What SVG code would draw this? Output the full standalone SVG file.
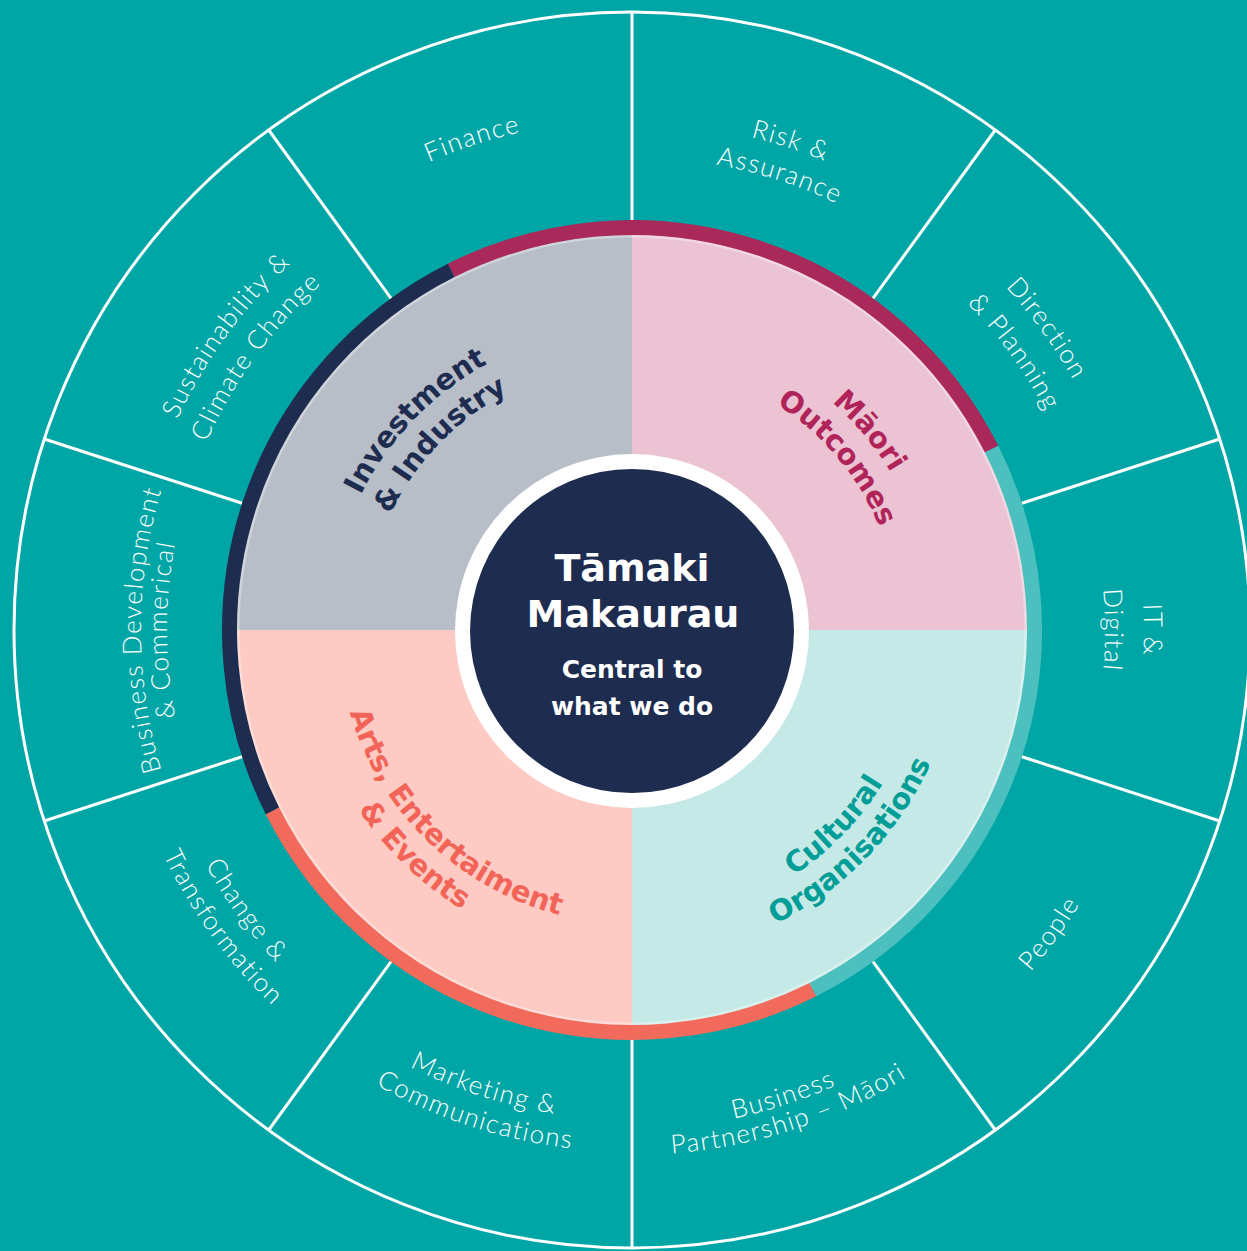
<svg xmlns="http://www.w3.org/2000/svg" width="1247" height="1251" viewBox="0 0 1247 1251">
<style>
.bg{fill:#00A6A6}
.line{stroke:#fff;stroke-width:3;fill:none}
.ring{fill:none;stroke-width:15}
.out{font-family:Lato,'Open Sans',sans-serif;font-weight:300;font-size:26px;letter-spacing:1.5px;fill:#fff}
.q{font-family:'DejaVu Sans',sans-serif;font-weight:bold;font-size:29px}
.c1{font-family:'DejaVu Sans',sans-serif;font-weight:bold;font-size:38px;fill:#fff;text-anchor:middle}
.c2{font-family:'DejaVu Sans',sans-serif;font-weight:bold;font-size:25px;fill:#fff;text-anchor:middle}
</style>
<defs>
<path id="cw510" d="M152.76,455.57 A510,510 0 0 1 1111.24,455.57"/>
<path id="cw507" d="M155.58,456.60 A507,507 0 0 1 1108.42,456.60"/>
<path id="cw512" d="M150.88,454.89 A512,512 0 0 1 1113.12,454.89"/>
<path id="cw501" d="M161.22,458.65 A501,501 0 0 1 1102.78,458.65"/>
<path id="cw491" d="M170.61,462.07 A491,491 0 0 1 1093.39,462.07"/>
<path id="cw473" d="M187.53,468.22 A473,473 0 0 1 1076.47,468.22"/>
<path id="cw468" d="M192.23,469.93 A468,468 0 0 1 1071.77,469.93"/>
<path id="cw465" d="M195.04,470.96 A465,465 0 0 1 1068.96,470.96"/>
<path id="cw303" d="M347.27,526.37 A303,303 0 0 1 916.73,526.37"/>
<path id="cw268" d="M380.16,538.34 A268,268 0 0 1 883.84,538.34"/>
<path id="ccw525" d="M138.66,809.56 A525,525 0 0 0 1125.34,809.56"/>
<path id="ccw499" d="M163.09,800.67 A499,499 0 0 0 1100.91,800.67"/>
<path id="ccw490" d="M171.55,797.59 A490,490 0 0 0 1092.45,797.59"/>
<path id="ccw522" d="M141.48,808.53 A522,522 0 0 0 1122.52,808.53"/>
<path id="ccw487" d="M174.37,796.56 A487,487 0 0 0 1089.63,796.56"/>
<path id="ccw520" d="M143.36,807.85 A520,520 0 0 0 1120.64,807.85"/>
<path id="ccw294" d="M355.73,730.55 A294,294 0 0 0 908.27,730.55"/>
<path id="ccw327" d="M324.72,741.84 A327,327 0 0 0 939.28,741.84"/>
</defs>

<rect class="bg" x="0" y="0" width="1247" height="1251"/>

<g id="outer-wheel">
<circle class="line" cx="632" cy="630" r="618"/>
</g>

<g id="connectors">
<line class="line" x1="632" y1="220" x2="632" y2="12"/>
<line class="line" x1="873.0" y1="298.3" x2="995.3" y2="130.0"/>
<line class="line" x1="1021.9" y1="503.3" x2="1219.8" y2="439.0"/>
<line class="line" x1="1021.9" y1="756.7" x2="1219.8" y2="821.0"/>
<line class="line" x1="873.0" y1="961.7" x2="995.3" y2="1130.0"/>
<line class="line" x1="632" y1="1040" x2="632" y2="1248"/>
<line class="line" x1="391.0" y1="961.7" x2="268.7" y2="1130.0"/>
<line class="line" x1="242.1" y1="756.7" x2="44.2" y2="821.0"/>
<line class="line" x1="242.1" y1="503.3" x2="44.2" y2="439.0"/>
<line class="line" x1="391.0" y1="298.3" x2="268.7" y2="130.0"/>
</g>

<g id="quadrants">
<path d="M632,630 L232,630 A400,400 0 0 1 632,230 Z" fill="#B7BEC8"/>
<path d="M632,630 L632,230 A400,400 0 0 1 1032,630 Z" fill="#EBC3D3"/>
<path d="M632,630 L1032,630 A400,400 0 0 1 632,1030 Z" fill="#C5E9E7"/>
<path d="M632,630 L632,1030 A400,400 0 0 1 232,630 Z" fill="#FDCBC3"/>
<circle cx="632" cy="630" r="394" fill="none" stroke="#fff" stroke-opacity="0.35" stroke-width="3"/>
<path class="ring" stroke="#A9295B" d="M451.2,270.4 A402.5,402.5 0 0 1 991.6,449.2"/>
<path class="ring" stroke="#4CBFBF" d="M991.6,449.2 A402.5,402.5 0 0 1 812.8,989.6"/>
<path class="ring" stroke="#F26A5B" d="M812.8,989.6 A402.5,402.5 0 0 1 272.4,810.8"/>
<path class="ring" stroke="#1E2C50" d="M272.4,810.8 A402.5,402.5 0 0 1 451.2,270.4"/>
</g>

<g id="investment-industry">
<text class="q" fill="#1E2C50" transform="rotate(-46 632 630)"><textPath href="#cw303" startOffset="50%" text-anchor="middle">Investment</textPath></text>
<text class="q" fill="#1E2C50" transform="rotate(-46 632 630)"><textPath href="#cw268" startOffset="50%" text-anchor="middle">&amp; Industry</textPath></text>
</g>
<g id="maori-outcomes">
<text class="q" fill="#B0245A" transform="rotate(50 632 630)"><textPath href="#cw303" startOffset="50%" text-anchor="middle">Māori</textPath></text>
<text class="q" fill="#B0245A" transform="rotate(50 632 630)"><textPath href="#cw268" startOffset="50%" text-anchor="middle">Outcomes</textPath></text>
</g>
<g id="cultural-organisations">
<text class="q" fill="#009E96" transform="rotate(-46 632 630)"><textPath href="#ccw294" startOffset="50%" text-anchor="middle">Cultural</textPath></text>
<text class="q" fill="#009E96" transform="rotate(-46 632 630)"><textPath href="#ccw327" startOffset="50%" text-anchor="middle">Organisations</textPath></text>
</g>
<g id="arts-entertainment-events">
<text class="q" fill="#F26457" transform="rotate(44 632 630)"><textPath href="#ccw294" startOffset="50%" text-anchor="middle">Arts, Entertaiment</textPath></text>
<text class="q" fill="#F26457" transform="rotate(44 632 630)"><textPath href="#ccw327" startOffset="50%" text-anchor="middle">&amp; Events</textPath></text>
</g>

<g id="center">
<circle cx="632" cy="631" r="177" fill="#fff"/>
<circle cx="632" cy="631" r="162" fill="#1E2C50"/>
<text class="c1" x="632" y="581">Tāmaki</text>
<text class="c1" x="633" y="627">Makaurau</text>
<text class="c2" x="632" y="678">Central to</text>
<text class="c2" x="632" y="715">what we do</text>
</g>

<g id="finance">
<text class="out" transform="rotate(-18 632 630)"><textPath href="#cw510" startOffset="50%" text-anchor="middle">Finance</textPath></text>
</g>
<g id="risk-assurance">
<text class="out" transform="rotate(18 632 630)"><textPath href="#cw507" startOffset="50%" text-anchor="middle">Risk &amp;</textPath></text>
<text class="out" transform="rotate(18 632 630)"><textPath href="#cw473" startOffset="50%" text-anchor="middle">Assurance</textPath></text>
</g>
<g id="direction-planning">
<text class="out" transform="rotate(54 632 630)"><textPath href="#cw507" startOffset="50%" text-anchor="middle">Direction</textPath></text>
<text class="out" transform="rotate(54 632 630)"><textPath href="#cw468" startOffset="50%" text-anchor="middle">&amp; Planning</textPath></text>
</g>
<g id="it-digital">
<text class="out" transform="rotate(90 632 630)"><textPath href="#cw512" startOffset="50%" text-anchor="middle">IT &amp;</textPath></text>
<text class="out" transform="rotate(90 632 630)"><textPath href="#cw473" startOffset="50%" text-anchor="middle">Digital</textPath></text>
</g>
<g id="people">
<text class="out" transform="rotate(-54 632 630)"><textPath href="#ccw525" startOffset="50%" text-anchor="middle">People</textPath></text>
</g>
<g id="business-partnership-maori">
<text class="out" transform="rotate(-18 632 630)"><textPath href="#ccw499" startOffset="50%" text-anchor="middle">Business</textPath></text>
<text class="out" transform="rotate(-18 632 630)"><textPath href="#ccw525" startOffset="50%" text-anchor="middle">Partnership – Māori</textPath></text>
</g>
<g id="marketing-communications">
<text class="out" transform="rotate(18 632 630)"><textPath href="#ccw490" startOffset="50%" text-anchor="middle">Marketing &amp;</textPath></text>
<text class="out" transform="rotate(18 632 630)"><textPath href="#ccw522" startOffset="50%" text-anchor="middle">Communications</textPath></text>
</g>
<g id="change-transformation">
<text class="out" transform="rotate(54 632 630)"><textPath href="#ccw487" startOffset="50%" text-anchor="middle">Change &amp;</textPath></text>
<text class="out" transform="rotate(54 632 630)"><textPath href="#ccw520" startOffset="50%" text-anchor="middle">Transformation</textPath></text>
</g>
<g id="business-development-commercial">
<text class="out" transform="rotate(-90 632 630)"><textPath href="#cw491" startOffset="50%" text-anchor="middle">Business Development</textPath></text>
<text class="out" transform="rotate(-90 632 630)"><textPath href="#cw465" startOffset="50%" text-anchor="middle">&amp; Commerical</textPath></text>
</g>
<g id="sustainability-climate-change">
<text class="out" transform="rotate(-54 632 630)"><textPath href="#cw501" startOffset="50%" text-anchor="middle">Sustainability &amp;</textPath></text>
<text class="out" transform="rotate(-54 632 630)"><textPath href="#cw465" startOffset="50%" text-anchor="middle">Climate Change</textPath></text>
</g>
</svg>
